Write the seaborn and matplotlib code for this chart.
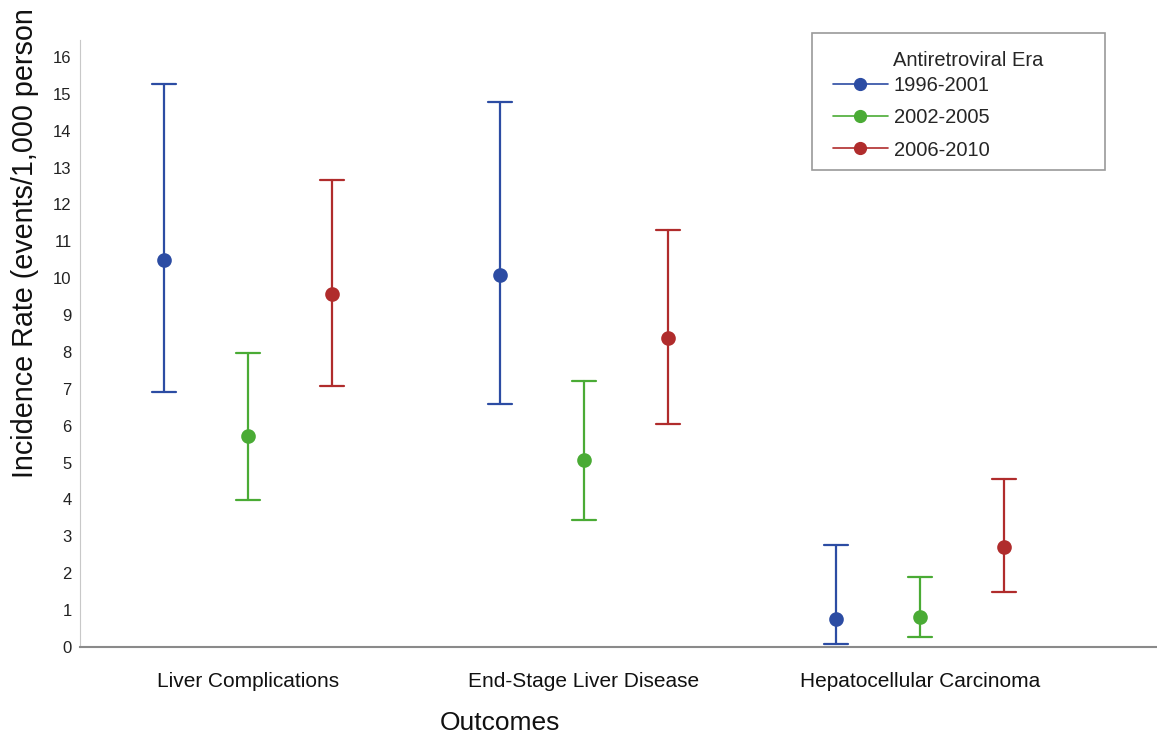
import pandas as pd
import seaborn as sns
import matplotlib.pyplot as plt
from matplotlib.lines import Line2D
from matplotlib.legend_handler import HandlerLine2D

# ---------------------------
# Data
# ---------------------------

outcomes = ["Liver Complications", "End-Stage Liver Disease", "Hepatocellular Carcinoma"]
eras = ["1996-2001", "2002-2005", "2006-2010"]

# incidence rate and 95% CI, one value per outcome
rate_1996 = [10.49, 10.09, 0.76]
low_1996 = [6.92, 6.59, 0.08]
high_1996 = [15.27, 14.78, 2.77]

rate_2002 = [5.72, 5.07, 0.81]
low_2002 = [3.99, 3.44, 0.27]
high_2002 = [7.97, 7.21, 1.90]

rate_2006 = [9.57, 8.38, 2.71]
low_2006 = [7.08, 6.05, 1.49]
high_2006 = [12.66, 11.31, 4.56]

y_ticks = list(range(0, 17))

colors = {"1996-2001": "#2c4ca3", "2002-2005": "#4aab35", "2006-2010": "#b02c2c"}

# long table: low / rate / high per cell -> median = rate, min..max = CI
series = {
    "1996-2001": (low_1996, rate_1996, high_1996),
    "2002-2005": (low_2002, rate_2002, high_2002),
    "2006-2010": (low_2006, rate_2006, high_2006),
}
rows = []
for era, (lo, est, hi) in series.items():
    for i, outcome in enumerate(outcomes):
        for v in (lo[i], est[i], hi[i]):
            rows.append({"Outcome": outcome, "Era": era, "Rate": v})
df = pd.DataFrame(rows)

# ---------------------------
# Plot
# ---------------------------

sns.set_style("white")
plt.rcParams["font.family"] = ["Liberation Sans", "DejaVu Sans"]

fig = plt.figure(figsize=(11.57, 7.43), dpi=100)
ax = fig.add_axes([80 / 1157, 96 / 743, 1077 / 1157, 607 / 743])

sns.pointplot(
    data=df, x="Outcome", y="Rate", hue="Era",
    order=outcomes, hue_order=eras, palette=colors,
    estimator="median", errorbar=("pi", 100),
    dodge=0.5, linestyle="none", markers="o",
    markersize=8.5, capsize=0.07,
    err_kws={"linewidth": 1.6},
    legend=False, ax=ax,
)

ax.set_xlim(-0.5, 2.705)
ax.set_ylim(0, 16.46)
ax.set_yticks(y_ticks)
ax.tick_params(axis="y", length=0, labelsize=12, pad=6, labelcolor="#222222")
ax.tick_params(axis="x", length=0, labelsize=15, pad=18, labelcolor="#111111")

for side in ["top", "right"]:
    ax.spines[side].set_visible(False)
ax.spines["left"].set_color("#c8c8c8")
ax.spines["bottom"].set_color("#8a8a8a")
ax.spines["bottom"].set_linewidth(1.5)

ax.set_xlabel("Outcomes", fontsize=19, color="#111111")
ax.xaxis.set_label_coords(0.39, -0.105)
ax.set_ylabel("Incidence Rate (events/1,000 person", fontsize=20.7,
              loc="bottom", color="#111111")
ax.yaxis.set_label_coords(-0.038, 0.278)

handles = [
    Line2D([0], [0], color=colors[e], marker="o", markersize=8.5, linewidth=1.2)
    for e in eras
]
leg = ax.legend(
    handles, eras, title="Antiretroviral Era",
    loc="upper left",
    bbox_to_anchor=(812 / 1157, 1 - 177 / 743, 293 / 1157, 144 / 743),
    bbox_transform=fig.transFigure, mode="expand",
    fontsize=14.5, title_fontsize=14.5, alignment="left",
    fancybox=False, handlelength=3.25, handletextpad=0.3,
    labelspacing=0.67, borderpad=0.5, borderaxespad=0,
    handler_map={Line2D: HandlerLine2D(xpad=0.55)},
)
leg.get_frame().set_edgecolor("#808080")
leg.get_frame().set_linewidth(1.2)
# title sits over the labels, a bit closer to the first entry
leg.get_title().set_x(71)
leg.get_title().set_y(-8)

plt.savefig("out.png", dpi=100)
